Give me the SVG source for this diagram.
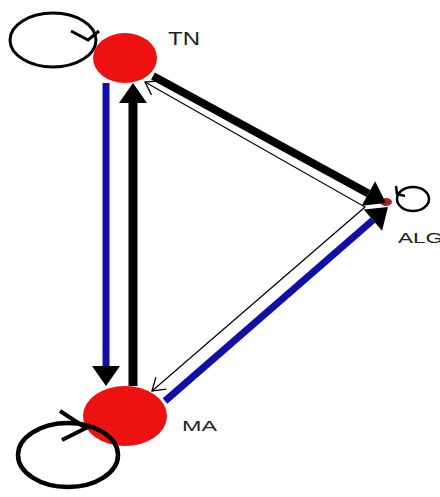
<svg xmlns="http://www.w3.org/2000/svg" width="440" height="497" viewBox="0 0 440 497">
<style>
.node{fill:#ee1111}
.lbl{font-family:"Liberation Sans",Arial,sans-serif;fill:#222}
.loop{fill:none;stroke:#000}
.thick{fill:none;stroke-linecap:butt}
.thin{fill:none;stroke:#000;stroke-width:1.2}
</style>
<defs>
<marker id="ah" markerUnits="userSpaceOnUse" viewBox="0 -15 20 30" refX="0" refY="0" markerWidth="20" markerHeight="30" orient="auto" overflow="visible">
<path d="M0,-14 L20,0 L0,14 z" fill="#000"/>
</marker>
<marker id="open" markerUnits="userSpaceOnUse" viewBox="-14 -10 16 20" refX="0" refY="0" markerWidth="16" markerHeight="20" orient="auto-start-reverse" overflow="visible">
<path d="M-12,-8 L0,0 L-12,8" fill="none" stroke="#000" stroke-width="1.3"/>
</marker>
</defs>
<rect width="440" height="497" fill="#fff"/>
<g id="TN">
<ellipse class="node" cx="125" cy="58" rx="32" ry="25"/>
<text class="lbl" x="168" y="45" font-size="18" textLength="32" lengthAdjust="spacingAndGlyphs">TN</text>
</g>
<g id="MA">
<ellipse class="node" cx="125" cy="416" rx="42" ry="30"/>
<text class="lbl" x="182" y="431" font-size="14" textLength="35" lengthAdjust="spacingAndGlyphs">MA</text>
</g>
<g id="ALG">
<ellipse cx="386" cy="202" rx="6" ry="4" fill="#b02020"/>
<text class="lbl" x="398" y="243" font-size="15" textLength="45" lengthAdjust="spacingAndGlyphs">ALG</text>
</g>
<g id="connectors">
<ellipse class="loop" cx="53" cy="40" rx="43" ry="27" stroke-width="3"/>
<polyline class="loop" points="71,31 88,40 99,31" stroke-width="3"/>
<ellipse class="loop" cx="68" cy="455" rx="50" ry="32" stroke-width="4.5"/>
<polyline class="loop" points="60,411 86,428 62,440" stroke-width="4"/>
<ellipse class="loop" cx="413" cy="199" rx="16" ry="12" stroke-width="2.5"/>
<polyline class="loop" points="396,186 397,194 405,196" stroke-width="2.5"/>
<line class="thick" x1="106" y1="83" x2="106" y2="366" stroke="#1010a8" stroke-width="7" marker-end="url(#ah)"/>
<line class="thick" x1="133" y1="386" x2="133" y2="103" stroke="#000" stroke-width="9" marker-end="url(#ah)"/>
<line class="thick" x1="153" y1="76" x2="368.4" y2="193.5" stroke="#000" stroke-width="8" marker-end="url(#ah)"/>
<line class="thick" x1="165" y1="401" x2="372.9" y2="220.1" stroke="#1010a8" stroke-width="7" marker-end="url(#ah)"/>
<path class="thin" d="M145,82 L365,207 L152,391" marker-start="url(#open)" marker-end="url(#open)"/>
</g>
</svg>
